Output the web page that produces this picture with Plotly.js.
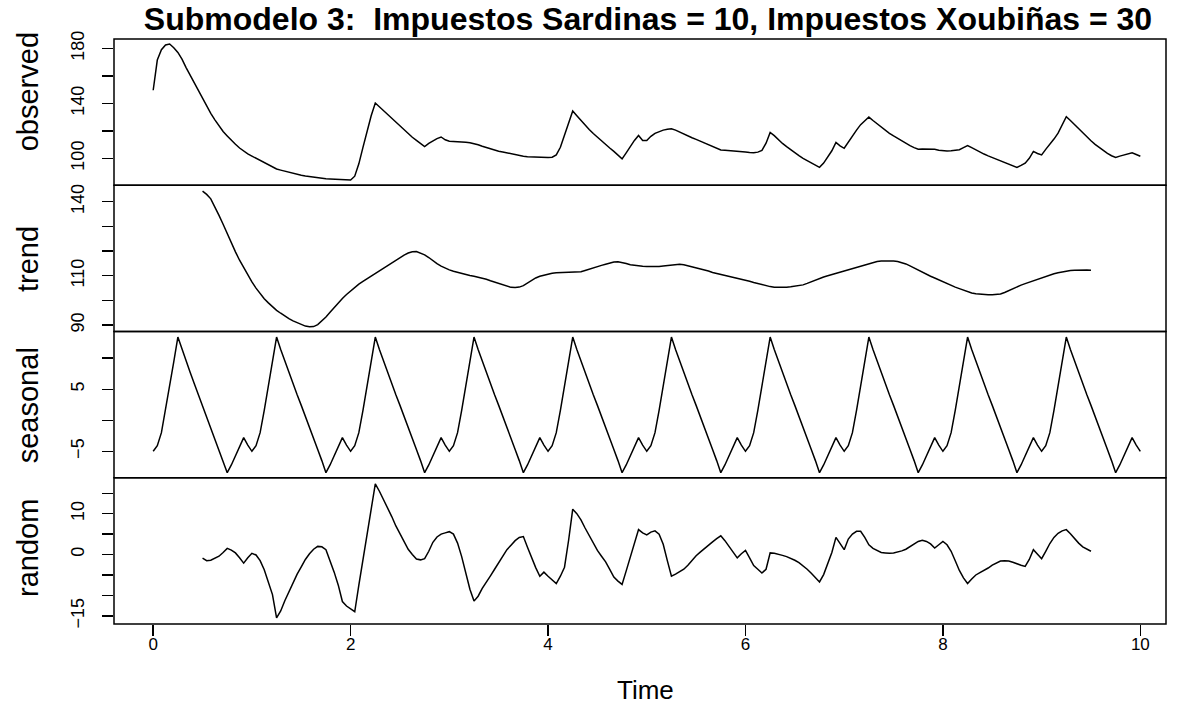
<!DOCTYPE html>
<html><head><meta charset="utf-8">
<script src="https://cdn.plot.ly/plotly-3.0.1.min.js"></script>
<style>html,body{margin:0;padding:0;background:#fff}#chart{width:1177px;height:725px}</style>
</head><body><div id="chart"></div>
<script>
// ---- data ----
const frequency = 24;
const observedStart = 0;
const observed = [
  149.5,171.5,179,182.5,183.2,180.5,177,172.2,166,160.5,155,149,143,137.5,132.7,128,123.5,119.5,116.3,113,110.2,107.5,105.2,103.2,
  101.6,100,98.5,97,95.5,94,92.2,91.4,90.6,89.8,89.1,88.4,87.7,87.2,86.7,86.2,85.8,85.4,85.1,84.9,84.7,84.6,84.5,84.4,
  84.2,87,96,108,120,131,140.2,137.4,134.6,132,129.5,126.9,124,121,118,115.3,113,110.8,108.6,110.8,112.8,114.3,115.5,113.5,
  112.4,112.3,112.2,112,111.6,111.3,110.8,109.8,108.8,107.8,106.9,106,105.2,104.6,103.9,103.2,102.6,102,101.5,101.2,101,100.9,100.8,100.7,
  100.5,100.8,102.5,108,116.5,125.5,134.4,131,127.5,124,121,118,115.2,112.5,110,107.5,105,102.3,99.6,104,108.6,113,116.6,113,
  113,116,118.2,119.5,120.5,121.2,121.5,120.5,119,117.5,116.2,115,113.8,112.6,111.3,110,108.7,107.3,106.1,105.9,105.7,105.5,105.4,105,
  104.6,104.2,104,104.5,105.8,111,118.8,116.5,113.5,110.8,108.5,106.2,104,102,100,98.2,96.5,95,93.4,96.5,101,105.5,111.5,109,
  107.3,112,116.5,120.5,124.5,127.5,130,127.5,125,122.7,120.5,118.2,116.3,114.4,112.5,110.8,109.2,107.8,106.6,106.7,106.8,106.9,106.6,105.8,
  105.4,105.4,105.5,105.7,106.3,107.8,109.3,107.8,106.1,104.6,103.1,101.8,100.5,99.3,98.1,96.9,95.6,94.4,93.3,94.8,96.5,100,105,103.5,
  102.5,106.5,110,114,118.3,124,130.3,127.5,124.5,121.5,118.3,115.5,112.8,110.2,107.8,105.6,103.6,101.9,100.7,101.6,102.5,103.3,104,102.8,
  101.5
];
const trendStart = 0.5;
const trend = [
  144.3,143,141.2,138,134.5,130.9,127,123.2,119.7,116.3,113.2,110.2,
  107.5,105,102.7,100.7,99,97.4,96,94.8,93.6,92.6,91.7,90.9,90.2,89.6,89.3,89.4,90.2,91.6,93.3,95.2,97.2,99,100.8,102.4,
  103.9,105.3,106.6,107.7,108.8,109.9,110.9,111.8,112.9,114,115.1,116.3,117.4,118.4,119.2,119.7,119.8,119.3,118.5,117.4,116.1,114.9,113.9,113,
  112.4,111.8,111.3,110.9,110.5,110.1,109.8,109.5,109.1,108.6,108,107.4,106.8,106.2,105.7,105.3,105.2,105.4,106,107.1,108.2,109.1,109.8,110.3,
  110.7,111,111.2,111.3,111.3,111.3,111.3,111.4,111.6,112.1,112.7,113.2,113.7,114.2,114.7,115.2,115.6,115.7,115.5,115,114.5,114.2,114,113.9,
  113.8,113.7,113.7,113.8,114,114.2,114.5,114.7,114.7,114.5,114.1,113.7,113.3,112.9,112.4,111.9,111.3,110.9,110.6,110.3,110,109.6,109.2,108.8,
  108.3,107.8,107.3,106.8,106.4,106,105.6,105.3,105.2,105.2,105.3,105.5,105.7,106,106.3,106.9,107.6,108.3,109,109.5,110,110.5,111,111.5,
  112,112.4,112.9,113.4,113.8,114.3,114.8,115.3,115.8,116,116.1,116.1,116,115.8,115.4,114.8,114,113.1,112.2,111.4,110.6,109.8,109.1,108.3,
  107.5,106.8,106.1,105.4,104.8,104.1,103.5,103,102.7,102.5,102.4,102.3,102.3,102.4,102.6,103.2,104,104.8,105.6,106.2,106.8,107.4,108,108.6,
  109.1,109.7,110.3,110.8,111.2,111.6,111.9,112.1,112.2,112.3,112.3,112.3,112.2
];
const seasonalStart = 0;
const seasonalFigure = [
  -5.0,-4.1,-2.0,1.6,5.6,9.4,13.4,11.4,9.5,7.7,5.9,4.1,2.4,0.7,-1.0,-2.8,-4.7,-6.5,-8.45,-7.2,-5.8,-4.3,-2.8,-4.0
];
const randomStart = 0.5;
const random = [
  -0.9,-1.5,-1.4,-0.9,-0.4,0.5,1.5,1.1,0.4,-0.8,-2.1,-0.8,
  0.3,-0.1,-1.5,-3.7,-6.5,-9.8,-15.5,-13.8,-11.3,-9,-6.8,-4.8,-3,-1.2,0.2,1.3,2.0,1.9,1.2,-1.5,-4.3,-7.5,-11.5,-12.6,
  -13.2,-14.0,-7.5,-1.5,5.5,11.5,17.3,15.5,13.5,11.5,9.3,7,5,3.2,1.3,0,-1.1,-1.3,-1.0,0.8,3.0,4.3,5.0,5.3,
  5.6,5.0,2.8,-0.5,-4.5,-8.5,-11.4,-10.2,-8.3,-6.6,-5.2,-3.6,-2.0,-0.4,1.2,2.3,3.4,4.2,4.4,1.8,-0.8,-3.2,-5.3,-4.3,
  -5.3,-6.3,-7.1,-5.3,-3.1,3.5,11.1,10.0,8.5,6.5,4.6,2.6,1.0,-0.4,-1.8,-3.6,-5.5,-6.5,-7.3,-4.0,-0.5,3.0,6.1,5.3,
  4.8,5.5,5.8,5.0,2.5,-1.5,-5.3,-4.8,-4.2,-3.6,-2.6,-1.4,-0.3,0.6,1.5,2.3,3.1,3.9,4.6,3.4,2.1,0.7,-0.8,0.2,
  1.0,-0.8,-2.7,-3.6,-4.5,-3.6,0.4,0.3,0.1,-0.2,-0.5,-0.9,-1.4,-2.0,-2.7,-3.6,-4.6,-5.6,-6.7,-4.9,-2.0,0.5,4.2,2.8,
  1.2,3.8,5.0,5.7,5.7,4.2,2.4,1.5,0.9,0.5,0.4,0.3,0.4,0.6,0.9,1.3,1.9,2.6,3.2,3.5,3.2,2.6,1.6,2.4,
  3.2,2.4,0.8,-1.5,-3.9,-5.7,-7.1,-6.0,-5.0,-4.4,-3.9,-3.3,-2.6,-2.0,-1.6,-1.5,-1.6,-1.9,-2.3,-2.6,-2.9,-1.2,1.2,0.1,
  -1.0,0.8,2.7,4.2,5.2,5.8,6.1,5.1,3.9,2.8,1.9,1.3,0.8
];
const panelNames = ['observed', 'trend', 'seasonal', 'random'];
const xTickValues = [0, 2, 4, 6, 8, 10];
const observedTicks = [100, 120, 140, 160, 180];
const observedTickText = ['100', '', '140', '', '180'];
const trendTicks = [90, 100, 110, 120, 130, 140];
const trendTickText = ['90', '', '110', '', '', '140'];
const seasonalTicks = [-5, 0, 5, 10];
const seasonalTickText = ['\u22125', '', '5', ''];
const randomTicks = [-15, -10, -5, 0, 5, 10, 15];
const randomTickText = ['\u221215', '', '', '0', '', '10', ''];
const titleText = 'Submodelo 3:\u00a0 Impuestos Sardinas = 10, Impuestos Xoubiñas = 30';
const xTitle = 'Time';

// ---- build ----
const timeOf = (start, n) => Array.from({length: n}, (_, i) => start + i / frequency);
const seasonal = observed.map((_, i) => seasonalFigure[i % frequency]);

const lineStyle = {color: '#000', width: 1.5};
const series = [
  [observedStart, observed, 'y'],
  [trendStart, trend, 'y2'],
  [seasonalStart, seasonal, 'y3'],
  [randomStart, random, 'y4']
];
const traces = series.map(([s, v, ax]) => ({
  type: 'scatter', mode: 'lines', x: timeOf(s, v.length), y: v,
  xaxis: 'x', yaxis: ax, line: lineStyle, hoverinfo: 'skip', showlegend: false
}));

const font = 'Liberation Sans, Arial, Helvetica, sans-serif';
const domains = [[0.75, 1], [0.5, 0.75], [0.25, 0.5], [0, 0.25]];
const labelCenters = [0.909, 0.624, 0.374, 0.13];
function yAx(domain, range, tv, tt) {
  return {
    domain, range, tickvals: tv, ticktext: tt, tickangle: -90,
    ticks: 'outside', ticklen: 11, tickwidth: 1.4, tickcolor: '#000',
    showline: false, zeroline: false, showgrid: false, fixedrange: true,
    tickfont: {family: font, size: 18, color: '#000'}, ticklabelstandoff: 11,
    anchor: 'x'
  };
}
const shapes = domains.map(d => ({
  type: 'rect', xref: 'paper', yref: 'paper', x0: 0, x1: 1, y0: d[0], y1: d[1],
  line: {color: '#000', width: 1.5}, fillcolor: 'rgba(0,0,0,0)'
}));
const annotations = panelNames.map((name, i) => ({
  text: name, xref: 'paper', yref: 'paper', x: -0.0817, y: labelCenters[i],
  xanchor: 'center', yanchor: 'middle', textangle: -90, showarrow: false,
  font: {family: font, size: 29, color: '#000'}
}));
annotations.push({
  text: xTitle, xref: 'paper', yref: 'paper', x: 0.5057, y: -0.1128,
  xanchor: 'center', yanchor: 'middle', showarrow: false,
  font: {family: font, size: 26, color: '#000'}
});

const layout = {
  width: 1177, height: 725,
  margin: {l: 114, r: 11, t: 39, b: 101},
  paper_bgcolor: '#fff', plot_bgcolor: '#fff',
  showlegend: false,
  title: {
    text: '<b>' + titleText + '</b>', xref: 'paper', x: 0.5076, xanchor: 'center',
    yref: 'container', y: 0.974, yanchor: 'middle',
    font: {family: font, size: 32, color: '#000'}
  },
  xaxis: {
    domain: [0, 1], range: [-0.397, 10.26], anchor: 'y4',
    tickvals: xTickValues, ticktext: xTickValues.map(String),
    ticks: 'outside', ticklen: 11, tickwidth: 1.4, tickcolor: '#000',
    showline: false, zeroline: false, showgrid: false, fixedrange: true,
    tickfont: {family: font, size: 17, color: '#000'}, ticklabelstandoff: -6
  },
  yaxis: yAx(domains[0], [80.4, 186.8], observedTicks, observedTickText),
  yaxis2: yAx(domains[1], [87.4, 146.7], trendTicks, trendTickText),
  yaxis3: yAx(domains[2], [-9.26, 14.3], seasonalTicks, seasonalTickText),
  yaxis4: yAx(domains[3], [-17.0, 18.8], randomTicks, randomTickText),
  shapes, annotations
};
Plotly.newPlot('chart', traces, layout, {staticPlot: true, displayModeBar: false});
</script>
</body></html>
